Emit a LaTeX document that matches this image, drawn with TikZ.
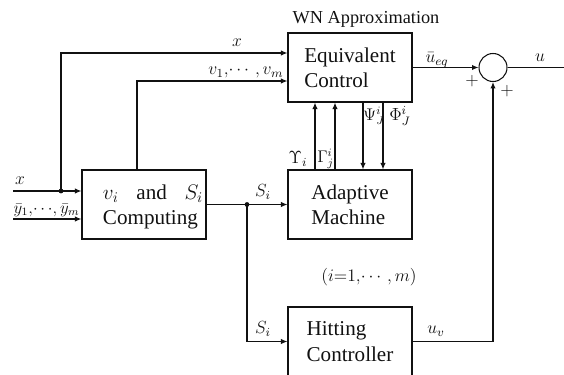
\RequirePackage{fix-cm}
\documentclass[tikz,border=0pt]{standalone}
\usepackage{amsmath}
\usepackage{fontspec}
\setmainfont{Liberation Serif}
\usetikzlibrary{arrows.meta,positioning,calc}
\definecolor{WnInk}{HTML}{111111}
\tikzset{
  wnlabel/.style={font=\fontsize{13}{16}\selectfont, text=WnInk},
  wnmath/.style={font=\fontsize{12.5}{14}\selectfont, text=WnInk, inner sep=1pt},
  wnbox/.style={draw=WnInk, line width=0.75pt, minimum width=3.1cm, minimum height=1.725cm, align=left, inner sep=0pt, font=\fontsize{15}{18}\selectfont},
  wnsum/.style={draw=WnInk, line width=0.75pt, circle, minimum size=0.7cm, inner sep=0pt},
  wnarrow/.style={-{Latex[length=4.6pt,width=3.8pt]}, line width=0.75pt, draw=WnInk},
  wnline/.style={line width=0.75pt, draw=WnInk},
  wndot/.style={circle, fill=WnInk, inner sep=0pt, minimum size=3.4pt}
}
\begin{document}
\begin{tikzpicture}[x=0.025cm, y=-0.025cm, every node/.style={wnlabel}]
\useasboundingbox (0,0) rectangle (564,374);
\node[wnbox] (comp) at (144,204.5) {};
\node[text width=2.5cm, align=left, inner sep=0pt, font=\fontsize{15}{18}\selectfont] (comptxt) at (153,207) {$v_i$\hfill and\hfill $S_i$\\Computing};
\node[wnbox] (eqc) at (350,67.5) {Equivalent\\Control};
\node[wnbox] (adm) at (350,204.5) {Adaptive\\Machine};
\node[wnbox] (hit) at (350,341.5) {Hitting\\Controller};
\node[wnsum] (sum) at (493,67.5) {};
\node (wn) at (366,19) {WN Approximation};
\coordinate (xin) at (13,191);
\coordinate (yin) at (13,219);
\coordinate (uout) at (564,67.5);
\node[wndot] (xdot) at (61,191) {};
\node[wndot] (sdot) at (247,204.5) {};
\draw[wnarrow] (xin) -- (xin -| comp.west);
\draw[wnarrow] (yin) -- (yin -| comp.west);
\draw[wnarrow] (xdot.center) |- ($(eqc.west)+(0,-14.5)$);
\draw[wnarrow] ($(comp.north)+(-7,0)$) |- ($(eqc.west)+(0,13.5)$);
\draw[wnarrow] (comp.east) -- (adm.west);
\draw[wnarrow] (sdot.center) |- (hit.west);
\foreach \dx in {-35,-15}{\draw[wnarrow] ($(adm.north)+(\dx,0)$) -- ($(eqc.south)+(\dx,0)$);}
\foreach \dx in {13,33}{\draw[wnarrow] ($(eqc.south)+(\dx,0)$) -- ($(adm.north)+(\dx,0)$);}
\draw[wnarrow] (eqc.east) -- (sum.west);
\draw[wnline] (sum.east) -- (uout);
\draw[wnarrow] (hit.east) -| (sum.south);
\node[wnmath] (lx) at (20,181) {$x$};
\node[wnmath, anchor=south west, font=\fontsize{12}{14}\selectfont] (ly) at (12,218) {$\bar y_1,\!\cdots\!,\bar y_m$};
\node[wnmath] (lxtop) at (237,43) {$x$};
\node[wnmath, anchor=south east] (lv) at (285,80) {$v_1,\!\cdots,v_m$};
\node[wnmath] (ltop) at (263,192) {$S_i$};
\node[wnmath] (lbot) at (263,329) {$S_i$};
\node[wnmath, inner sep=0pt] (lups) at (298,159) {$\Upsilon_i$};
\node[wnmath, inner sep=0pt, font=\fontsize{12}{14}\selectfont] (lgam) at (325.5,159) {$\Gamma^i_j$};
\node[wnmath, inner sep=0pt, font=\fontsize{12}{14}\selectfont] (lpsi) at (374,116) {$\Psi^i_J$};
\node[wnmath, inner sep=0pt] (lphi) at (400,116) {$\Phi^i_J$};
\node[wnmath] (lueq) at (437,60) {$\bar u_{eq}$};
\node[wnmath] (lu) at (540,58) {$u$};
\node[wnmath] (lp1) at (472,81) {$+$};
\node[wnmath] (lp2) at (507,91) {$+$};
\node[wnmath] (luv) at (436,331) {$u_v$};
\node[wnmath] (lrange) at (369,277) {$(i{=}1,\!\cdots,m)$};
\end{tikzpicture}
\end{document}
